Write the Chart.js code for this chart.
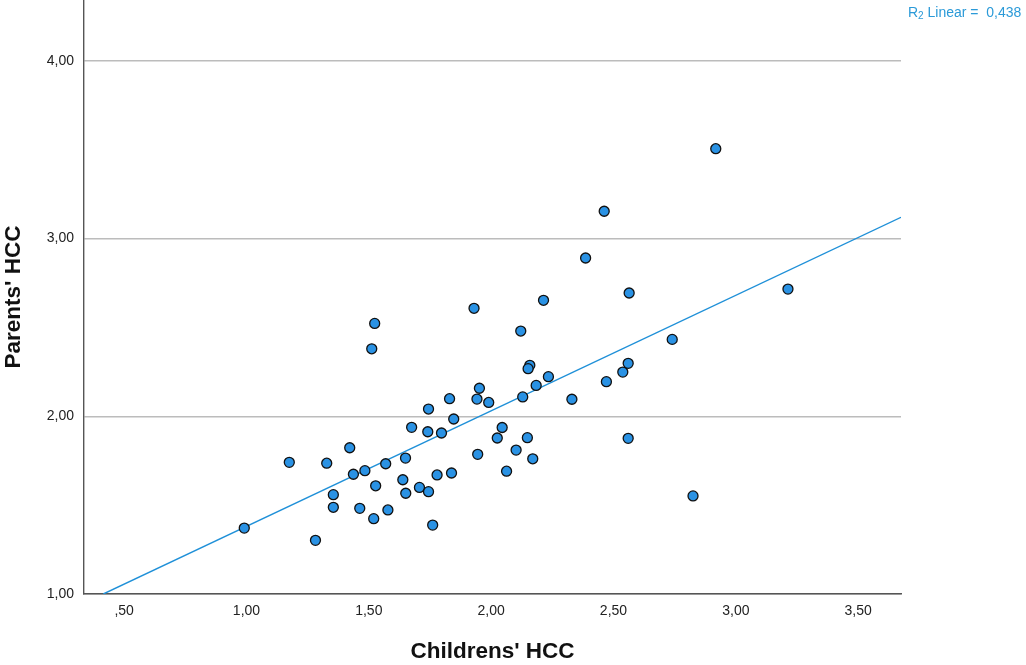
<!DOCTYPE html>
<html>
<head>
<meta charset="utf-8">
<script src="https://cdn.jsdelivr.net/npm/chart.js@4/dist/chart.umd.min.js"></script>
<style>
  html, body { margin: 0; padding: 0; background: #fff; }
  #wrap { width: 1026px; height: 665px; }
</style>
</head>
<body>
<div id="wrap"><canvas id="hccChart" width="1026" height="665"></canvas></div>
<script>
// values
const childrenHCC = [
  1.930, 1.524, 1.512, 1.952, 1.830, 1.942, 1.990, 1.744, 1.847, 2.045,
  1.675, 1.741, 1.797, 2.025, 1.422, 1.945, 1.175, 1.328, 1.650, 1.569,
  1.484, 1.437, 2.063, 1.779, 1.838, 1.639, 1.528, 1.707, 1.744, 1.651,
  1.355, 1.355, 1.463, 1.578, 1.520, 1.761, 0.991, 1.282, 2.918, 2.462,
  2.386, 3.213, 2.214, 2.564, 2.121, 2.740, 2.158, 2.151, 2.560, 2.538,
  2.234, 2.184, 2.471, 2.129, 2.330, 2.148, 2.560, 2.102, 2.170, 2.825
];
const parentsHCC = [
  2.608, 2.523, 2.380, 2.158, 2.099, 2.097, 2.078, 2.041, 1.985, 1.937,
  1.938, 1.913, 1.906, 1.878, 1.823, 1.786, 1.741, 1.736, 1.765, 1.733,
  1.694, 1.674, 1.691, 1.670, 1.681, 1.643, 1.609, 1.600, 1.576, 1.567,
  1.559, 1.488, 1.482, 1.473, 1.424, 1.388, 1.371, 1.302, 3.506, 3.154,
  2.891, 2.716, 2.653, 2.694, 2.480, 2.433, 2.287, 2.268, 2.298, 2.249,
  2.223, 2.174, 2.195, 2.109, 2.096, 1.880, 1.876, 1.810, 1.761, 1.552
];
// fit line end points (where it meets the frame)
const fitX = [0.415, 3.675];
const fitY = [1.00, 3.12];
const xTicks = [0.5, 1.0, 1.5, 2.0, 2.5, 3.0, 3.5];
const yTicks = [1.0, 2.0, 3.0, 4.0];
const r2Label = '0,438';

function fmt(v) {
  return v.toFixed(2).replace('.', ',').replace(/^0/, '');
}

const r2Plugin = {
  id: 'r2text',
  afterDraw(chart) {
    const ctx = chart.ctx;
    ctx.save();
    ctx.fillStyle = '#2b9ad8';
    ctx.textBaseline = 'middle';
    ctx.textAlign = 'left';
    let x = 908;
    const y = 13;
    ctx.font = '14px "Liberation Sans", Arial, sans-serif';
    ctx.fillText('R', x, y);
    x += ctx.measureText('R').width;
    ctx.font = '10px "Liberation Sans", Arial, sans-serif';
    ctx.fillText('2', x, y + 3);
    x += ctx.measureText('2').width;
    ctx.font = '14px "Liberation Sans", Arial, sans-serif';
    ctx.fillText(' Linear =  ' + r2Label, x, y);
    ctx.restore();
  }
};

const ctx = document.getElementById('hccChart').getContext('2d');
const hccChart = new Chart(ctx, {
  type: 'scatter',
  data: {
    datasets: [{
        label: 'Fit',
        type: 'line',
        data: fitX.map((x, i) => ({ x: x, y: fitY[i] })),
        borderColor: '#1f90d8',
        borderWidth: 1.4,
        pointRadius: 0,
        fill: false,
        order: 2,
      },
      {
        label: 'HCC',
        data: childrenHCC.map((x, i) => ({ x: x, y: parentsHCC[i] })),
        backgroundColor: '#2a92e4',
        borderColor: '#111',
        borderWidth: 1.3,
        pointRadius: 5,
        order: 1,
      },
    ],
  },
  options: {
    responsive: false,
    animation: false,
    layout: { autoPadding: false, padding: { left: 0, right: 125, top: 0, bottom: 0 } },
    plugins: {
      legend: { display: false },
      tooltip: { enabled: false },
    },
    scales: {
      x: {
        type: 'linear',
        min: 0.336,
        max: 3.675,
        afterBuildTicks: s => { s.ticks = xTicks.map(v => ({ value: v })); },
        afterFit: s => { s.height = 71; s.paddingLeft = 0; s.paddingRight = 0; },
        grid: { display: false, drawTicks: false },
        border: { display: true, color: '#555', width: 1.4 },
        ticks: {
          padding: 9,
          color: '#222',
          font: { family: '"Liberation Sans", Arial, sans-serif', size: 14 },
          callback: v => fmt(v),
        },
        title: {
          display: true,
          text: "Childrens' HCC",
          color: '#111',
          padding: 0,
          font: { family: '"Liberation Sans", Arial, sans-serif', size: 22.5, weight: 'bold' },
        },
      },
      y: {
        type: 'linear',
        min: 1.0,
        max: 4.343,
        afterBuildTicks: s => { s.ticks = yTicks.map(v => ({ value: v })); },
        afterFit: s => { s.width = 84; s.paddingTop = 0; s.paddingBottom = 0; },
        grid: { display: true, drawTicks: false, color: '#bcbcbc', lineWidth: 1.4 },
        border: { display: true, color: '#555', width: 1.4 },
        ticks: {
          padding: 10,
          color: '#222',
          font: { family: '"Liberation Sans", Arial, sans-serif', size: 14 },
          callback: v => fmt(v),
        },
        title: {
          display: true,
          text: "Parents' HCC",
          color: '#111',
          padding: 0,
          font: { family: '"Liberation Sans", Arial, sans-serif', size: 22.5, weight: 'bold' },
        },
      },
    },
  },
  plugins: [r2Plugin],
});
</script>
</body>
</html>
